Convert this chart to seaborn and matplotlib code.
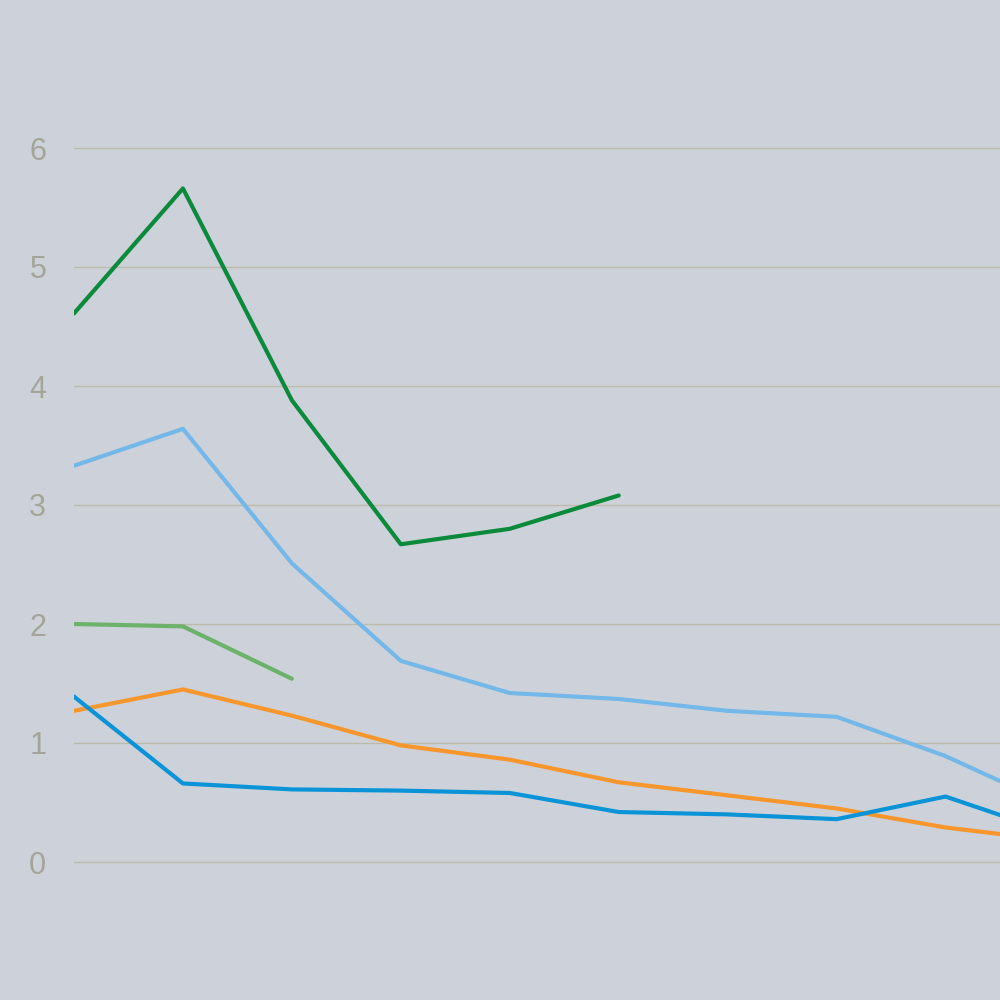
import numpy as np
import pandas as pd
import matplotlib
matplotlib.use("Agg")
import matplotlib.pyplot as plt
import seaborn as sns

# values, one entry per period (NaN = no data)
periods = list(range(10))
dark_green = [4.61, 5.66, 3.88, 2.67, 2.80, 3.08, np.nan, np.nan, np.nan, np.nan]
light_blue = [3.33, 3.64, 2.51, 1.69, 1.42, 1.37, 1.27, 1.22, 0.89, 0.47]
light_green = [2.00, 1.98, 1.54, np.nan, np.nan, np.nan, np.nan, np.nan, np.nan, np.nan]
orange = [1.27, 1.45, 1.23, 0.98, 0.86, 0.67, 0.56, 0.45, 0.29, 0.18]
blue = [1.39, 0.66, 0.61, 0.60, 0.58, 0.42, 0.40, 0.36, 0.55, 0.24]

y_ticks = [0, 1, 2, 3, 4, 5, 6]

series = [
    ("dark_green", dark_green, "#0b8a3b"),
    ("light_blue", light_blue, "#74b8e9"),
    ("light_green", light_green, "#6cb26a"),
    ("orange", orange, "#f7962d"),
    ("blue", blue, "#0b93d7"),
]

bg = "#cdd2da"
sns.set_theme(style="white")
plt.rcParams['font.family'] = ['Liberation Sans', 'DejaVu Sans']

fig = plt.figure(figsize=(10, 10), dpi=100, facecolor=bg)
ax = fig.add_axes([0.074, 0.019, 0.926, 0.952])
ax.set_facecolor(bg)

for name, vals, col in series:
    df = pd.DataFrame({"x": periods, "y": vals}).dropna()
    sns.lineplot(data=df, x="x", y="y", color=col, linewidth=3.0, ax=ax)

ax.set_xlim(0, 8.5)
ax.set_ylim(-1, 7)
ax.set_yticks(y_ticks)
ax.set_yticklabels([str(t) for t in y_ticks], color="#a5a498", fontsize=22)
ax.set_xticks([])
ax.set_xlabel("")
ax.set_ylabel("")
ax.tick_params(axis="y", length=0, pad=20)
for s in ax.spines.values():
    s.set_visible(False)

for t in y_ticks:
    ax.axhline(t, color="#bcbaa8", linewidth=1.0, zorder=0)

fig.savefig("out.png", dpi=100, facecolor=bg)
